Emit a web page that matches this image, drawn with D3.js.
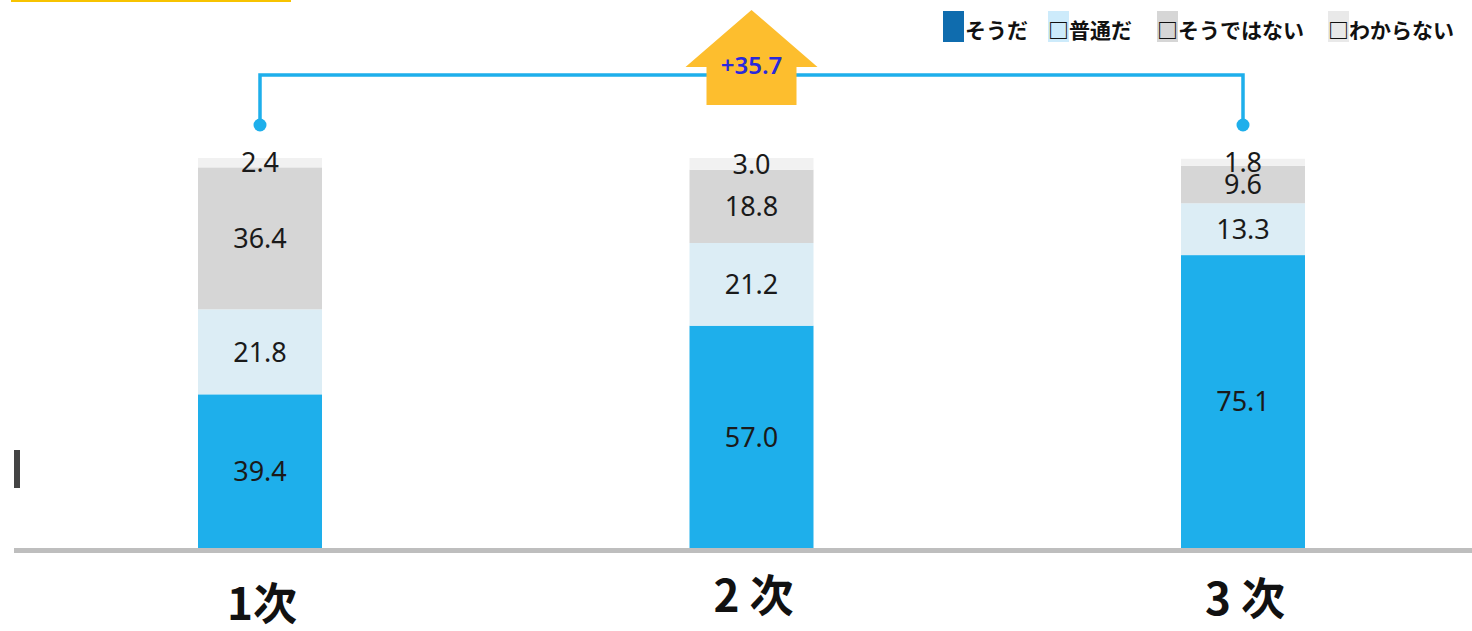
<!DOCTYPE html>
<html>
<head>
<meta charset="utf-8">
<script src="https://cdn.jsdelivr.net/npm/d3@7"></script>
<style>
  html, body { margin: 0; padding: 0; background: #fff; }
  svg { display: block; }
</style>
</head>
<body>
<svg id="chart" width="1472" height="631"></svg>
<script>
const svg = d3.select("#chart");

const W = 1472;

// data
const rounds = ["1次", "2 次", "3 次"];
const answers = ["そうだ", "普通だ", "そうではない", "わからない"];
const yes = [39.4, 57.0, 75.1];
const normal = [21.8, 21.2, 13.3];
const no = [36.4, 18.8, 9.6];
const unknown = [2.4, 3.0, 1.8];

const segColors = ["#1eafeb", "#dcedf5", "#d6d6d6", "#f1f1f1"];
const legendColors = ["#0f6cae", "#cdebfb", "#d6d6d6", "#e9e9e9"];
const labelDy = [5, -3, 0]; // category labels aren't quite level in the original

const x = d3.scalePoint().domain(rounds).range([260, 1243]);
const y = d3.scaleLinear().domain([0, 100]).range([548, 158]);
const barW = 124;

const rows = rounds.map((r, i) => ({ round: r, "そうだ": yes[i], "普通だ": normal[i], "そうではない": no[i], "わからない": unknown[i] }));
const series = d3.stack().keys(answers)(rows);

// yellow rule top-left
svg.append("rect").attr("x", 11).attr("y", 0).attr("width", 280).attr("height", 2).attr("fill", "#f7c300");

// little dark mark on the left
svg.append("rect").attr("x", 14).attr("y", 450).attr("width", 6).attr("height", 38).attr("fill", "#444");

// bars
const layer = svg.append("g").selectAll("g")
  .data(series)
  .join("g")
  .attr("fill", (d, i) => segColors[i]);

layer.selectAll("rect")
  .data(d => d)
  .join("rect")
  .attr("x", d => x(d.data.round) - barW / 2)
  .attr("width", barW)
  .attr("y", d => y(d[1]))
  .attr("height", d => y(d[0]) - y(d[1]));

// value labels
series.forEach(s => {
  svg.append("g").selectAll("text")
    .data(s)
    .join("text")
    .attr("x", d => x(d.data.round))
    .attr("y", d => (y(d[0]) + y(d[1])) / 2)
    .attr("dy", "0.36em")
    .attr("text-anchor", "middle")
    .attr("font-family", "Noto Sans, sans-serif")
    .attr("font-size", 27)
    .attr("fill", "#1a1a1a")
    .text(d => d.data[s.key].toFixed(1));
});

// baseline
svg.append("rect").attr("x", 14).attr("y", 548).attr("width", W - 14).attr("height", 5).attr("fill", "#bebebe");

// category labels
svg.append("g").selectAll("text")
  .data(rounds)
  .join("text")
  .attr("x", d => x(d) + 2)
  .attr("y", (d, i) => 615 + labelDy[i])
  .attr("text-anchor", "middle")
  .attr("font-family", "Noto Sans CJK JP, sans-serif")
  .attr("font-weight", 700)
  .attr("font-size", 44)
  .attr("fill", "#111")
  .text(d => d);

// bracket from first to last round
const x0 = x(rounds[0]), x1 = x(rounds[rounds.length - 1]);
const bracketY = 75, dotY = 125;
svg.append("path")
  .attr("d", `M${x0},${dotY} V${bracketY} H${x1} V${dotY}`)
  .attr("fill", "none")
  .attr("stroke", "#1eafeb")
  .attr("stroke-width", 3.5);
[x0, x1].forEach(cx => {
  svg.append("circle").attr("cx", cx).attr("cy", dotY).attr("r", 6.5).attr("fill", "#1eafeb");
});

// up arrow with the gain
const ax = (x0 + x1) / 2;
svg.append("path")
  .attr("d", `M${ax},10 L${ax + 66},67 L${ax + 45},67 L${ax + 45},105 L${ax - 45},105 L${ax - 45},67 L${ax - 66},67 Z`)
  .attr("fill", "#fdbe2e");
const gain = yes[yes.length - 1] - yes[0];
svg.append("text")
  .attr("x", ax)
  .attr("y", 74)
  .attr("text-anchor", "middle")
  .attr("font-family", "Noto Sans, sans-serif")
  .attr("font-weight", 600)
  .attr("font-size", 24)
  .attr("fill", "#2929dc")
  .text("+" + gain.toFixed(1));

// legend
const legendX = [943, 1048, 1157, 1328];
const legend = svg.append("g").selectAll("g")
  .data(answers)
  .join("g")
  .attr("transform", (d, i) => `translate(${legendX[i]},11)`);

legend.append("rect")
  .attr("width", 21).attr("height", 31)
  .attr("fill", (d, i) => legendColors[i]);

legend.append("text")
  .attr("x", (d, i) => i === 0 ? 22 : 0)
  .attr("y", 27)
  .attr("font-family", "Noto Sans CJK JP, sans-serif")
  .attr("font-weight", 700)
  .attr("font-size", 21)
  .attr("fill", "#111")
  .text((d, i) => i === 0 ? d : "□" + d);
</script>
</body>
</html>
